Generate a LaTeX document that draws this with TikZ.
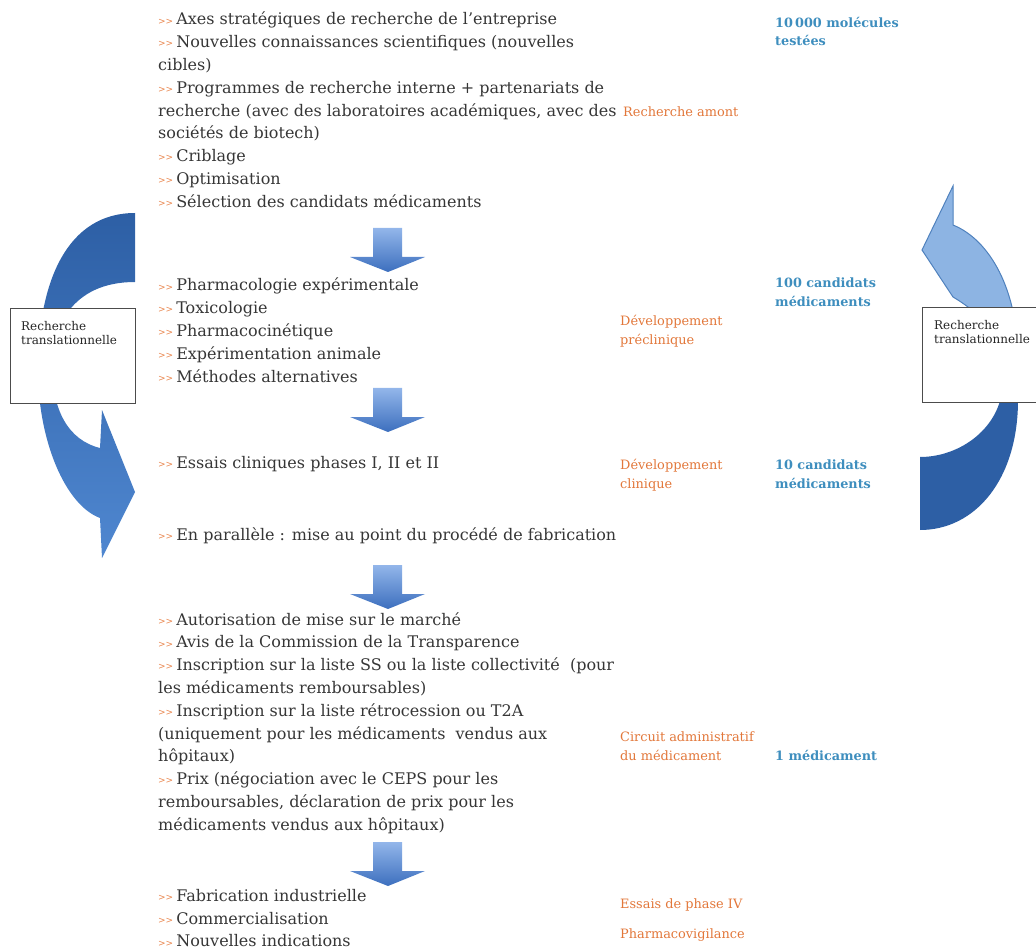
\documentclass[tikz,border=0pt]{standalone}
\usepackage{fontspec}
\setmainfont{DejaVu Serif}
\usetikzlibrary{positioning}
\definecolor{texte}{HTML}{363636}
\definecolor{puceorange}{HTML}{E8834A}
\definecolor{orangeEtape}{HTML}{E2773A}
\definecolor{bleuNombre}{HTML}{3E8EBE}
\definecolor{bleufonce}{HTML}{2D5FA5}
\definecolor{bleumoyen}{HTML}{4F87D0}
\definecolor{bleuclair}{HTML}{8DB4E3}
\definecolor{bleutrait}{HTML}{4F81BD}
\definecolor{flecheHaut}{HTML}{93B6EA}
\definecolor{flecheBas}{HTML}{3C6FBE}
\newcommand{\puce}{{\color{puceorange}\fontsize{9}{9}\selectfont\raisebox{0.8pt}{>{}>}}\hspace{3pt}}

\begin{document}
\begin{tikzpicture}[x=1pt, y=-1pt,
                bloc/.style = {anchor=north west, align=left, inner sep=0pt, text=texte,
                               font=\fontsize{16}{22.8}\selectfont,
                               execute at begin node={\rule{0pt}{13pt}}},
                etape/.style = {anchor=north west, align=left, inner sep=0pt, text=orangeEtape,
                                font=\fontsize{12.9}{19}\selectfont,
                                execute at begin node={\rule{0pt}{11pt}}},
                nombre/.style = {anchor=north west, align=left, inner sep=0pt, text=bleuNombre,
                                 font=\bfseries\fontsize{12.8}{18.5}\selectfont,
                                 execute at begin node={\rule{0pt}{11pt}}},
                boite/.style = {draw=black!70, fill=white, line width=0.8pt, inner sep=0pt,
                                minimum width=125pt, minimum height=95pt, anchor=north west},
                petit/.style = {align=left, inner sep=0pt, text=black!85,
                                font=\fontsize{12}{14.5}\selectfont}
                    ]
                \useasboundingbox (0,0) rectangle (1036,949);
                % fleches courbes
                \shade[top color=bleufonce, bottom color=bleumoyen]
                    (135,213) .. controls (68,213) and (38,280) .. (38,370)
                    .. controls (38,440) and (65,505) .. (100,518)
                    -- (102,558) -- (135,492) -- (102,410) -- (100,448)
                    .. controls (68,440) and (52,410) .. (52,365)
                    .. controls (52,330) and (70,282) .. (135,282) -- cycle;
                \fill[bleufonce]
                    (920,457) .. controls (955,457) and (990,435) .. (1000,401)
                    -- (1003,340) -- (1018,340) -- (1018,400)
                    .. controls (1018,480) and (975,530) .. (920,530) -- cycle;
                \filldraw[fill=bleuclair, draw=bleutrait, line width=1pt]
                    (953,225) -- (953,186) -- (922,250) -- (953,297)
                    .. controls (975,310) and (998,330) .. (1003,360) -- (1018,360)
                    .. controls (1018,290) and (990,240) .. (953,225) -- cycle;
                % fleches vers le bas
                \foreach \h in {228,388,565,842}
                    \shade[top color=flecheHaut, bottom color=flecheBas]
                        (373,\h) -- (402,\h) -- (402,\h+29) -- (425,\h+29) -- (388,\h+44)
                        -- (350,\h+29) -- (373,\h+29) -- cycle;
                \node[boite] (transG) at (10,308) {};
                \node[boite] (transD) at (922,307) {};
                \node[petit, below right=13pt and 11pt of transG.north west] (txtG) {Recherche\\translationnelle};
                \node[petit, below right=13pt and 12pt of transD.north west] (txtD) {Recherche\\translationnelle};
                \node[bloc] (amont) at (158,12) {\puce Axes stratégiques de recherche de l’entreprise\\
                    \puce Nouvelles connaissances scientifiques (nouvelles\\
                    cibles)\\
                    \puce Programmes de recherche interne + partenariats de\\
                    recherche (avec des laboratoires académiques, avec des\\
                    sociétés de biotech)\\
                    \puce Criblage\\
                    \puce Optimisation\\
                    \puce Sélection des candidats médicaments};
                \node[bloc] (precli) at (158,278) {\puce Pharmacologie expérimentale\\
                    \puce Toxicologie\\
                    \puce Pharmacocinétique\\
                    \puce Expérimentation animale\\
                    \puce Méthodes alternatives};
                \node[bloc] (essais) at (158,455) {\puce Essais cliniques phases I, II et II};
                \node[bloc] (procede) at (158,527) {\puce En parallèle : mise au point du procédé de fabrication};
                \node[bloc] (admin) at (158,612) {\puce Autorisation de mise sur le marché\\
                    \puce Avis de la Commission de la Transparence\\
                    \puce Inscription sur la liste SS ou la liste collectivité \ (pour\\
                    les médicaments remboursables)\\
                    \puce Inscription sur la liste rétrocession ou T2A\\
                    (uniquement pour les médicaments \ vendus aux\\
                    hôpitaux)\\
                    \puce Prix (négociation avec le CEPS pour les\\
                    remboursables, déclaration de prix pour les\\
                    médicaments vendus aux hôpitaux)};
                \node[bloc] (commerce) at (158,889) {\puce Fabrication industrielle\\
                    \puce Commercialisation\\
                    \puce Nouvelles indications};
                \node[etape] (eAmont) at (623,105) {Recherche amont};
                \node[etape] (ePrecli) at (620,315) {Développement\\préclinique};
                \node[etape] (eCli) at (620,459) {Développement\\clinique};
                \node[etape] (eAdmin) at (620,731) {Circuit administratif\\du médicament};
                \node[etape] (ePhase) at (620,897) {Essais de phase IV};
                \node[etape] (ePharma) at (620,927) {Pharmacovigilance};
                \node[nombre] (n1) at (775,17) {10\,000 molécules\\testées};
                \node[nombre] (n2) at (775,278) {100 candidats\\médicaments};
                \node[nombre] (n3) at (775,460) {10 candidats\\médicaments};
                \node[nombre] (n4) at (775,749) {1 médicament};
            \end{tikzpicture}
\end{document}
